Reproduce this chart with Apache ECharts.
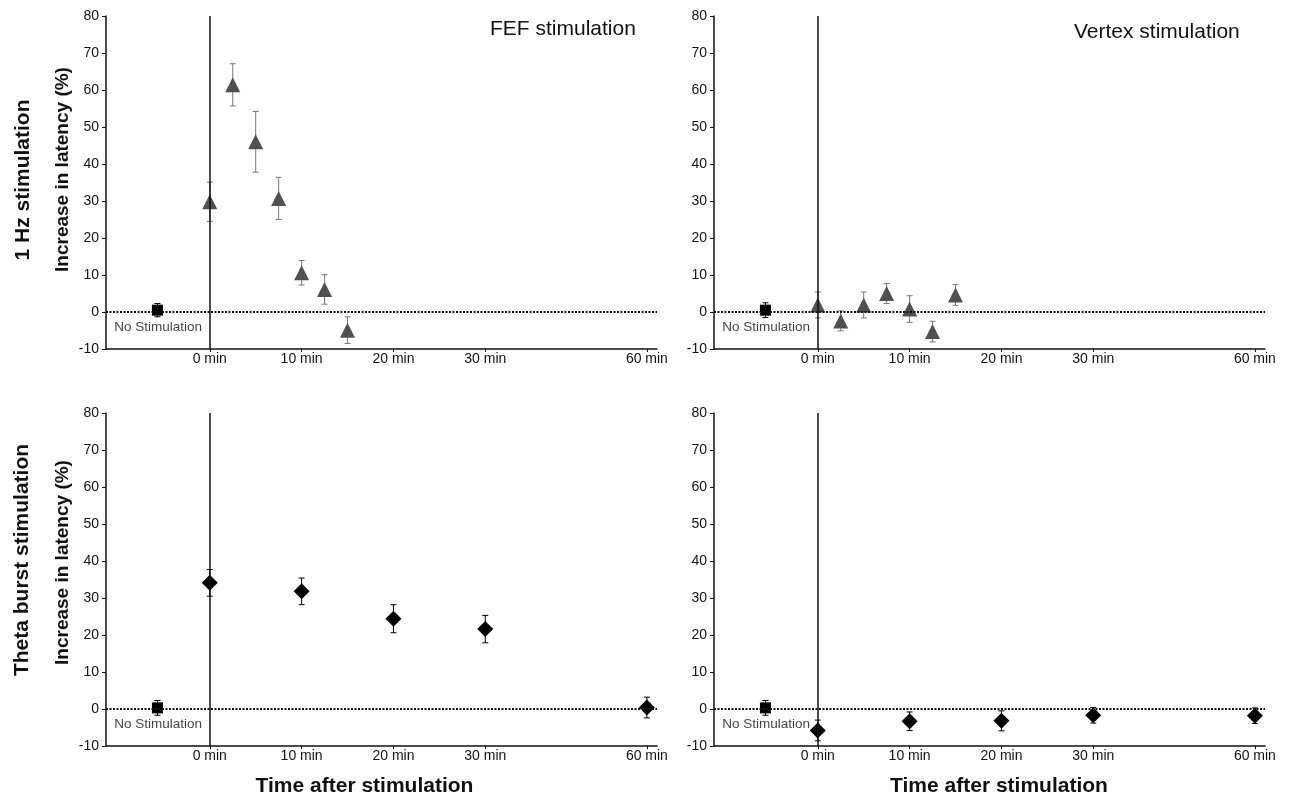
<!DOCTYPE html>
<html>
<head>
<meta charset="utf-8">
<title>Saccade latency after stimulation</title>
<script src="https://cdn.jsdelivr.net/npm/echarts@6.0.0/dist/echarts.min.js"></script>
<style>
    html, body { margin: 0; padding: 0; background: #fff; }
    #main { width: 1292px; height: 799px; }
</style>
</head>
<body>
<div id="main"></div>
<script>
    // x axis ticks: 60 min is drawn after a break, closer than it would be on a true scale
    var tickMinutes = [0, 10, 20, 30, 60];
    var tickPos = [0, 10, 20, 30, 47.6];

    // no-stimulation baseline, drawn left of 0 min
    var baselinePos = -5.7;
    var baselineMean = [0.5, 0.5, 0.3, 0.3];   // FEF 1Hz, Vertex 1Hz, FEF TBS, Vertex TBS
    var baselineErr = [1.8, 2.0, 2.0, 2.0];

    // 1 Hz stimulation (minutes after stimulation)
    var hzTimes = [0, 2.5, 5, 7.5, 10, 12.5, 15];
    var fefHzMean = [29.8, 61.4, 46.0, 30.7, 10.6, 6.1, -4.9];
    var fefHzErr = [5.3, 5.7, 8.2, 5.7, 3.3, 4.0, 3.6];
    var vertexHzMean = [1.9, -2.4, 1.9, 5.0, 0.8, -5.3, 4.6];
    var vertexHzErr = [3.5, 2.7, 3.5, 2.7, 3.6, 2.8, 2.8];

    // theta burst stimulation
    var tbsTimes = [0, 10, 20, 30, 60];
    var fefTbsMean = [34.1, 31.8, 24.4, 21.6, 0.4];
    var fefTbsErr = [3.6, 3.6, 3.8, 3.7, 2.8];
    var vertexTbsMean = [-5.8, -3.3, -3.2, -1.7, -1.8];
    var vertexTbsErr = [2.8, 2.5, 2.7, 2.1, 2.1];

    var noStimLabelAt = [-10.4, -4.2];

    var font = "'Liberation Sans', Arial, sans-serif";

    function posOf(min) {
        var i = tickMinutes.indexOf(min);
        return i >= 0 ? tickPos[i] : min;
    }
    function rows(times, mean, err) {
        var out = [];
        for (var i = 0; i < times.length; i++) {
            out.push([posOf(times[i]), mean[i], err[i]]);
        }
        return out;
    }

    var panels = [
        {data: rows(hzTimes, fefHzMean, fefHzErr), symbol: 'triangle', size: 15, color: '#505050', barColor: '#777'},
        {data: rows(hzTimes, vertexHzMean, vertexHzErr), symbol: 'triangle', size: 15, color: '#505050', barColor: '#777'},
        {data: rows(tbsTimes, fefTbsMean, fefTbsErr), symbol: 'diamond', size: 16, color: '#000', barColor: '#000'},
        {data: rows(tbsTimes, vertexTbsMean, vertexTbsErr), symbol: 'diamond', size: 16, color: '#000', barColor: '#000'}
    ];

    var grids = [
        {left: 106, top: 16, width: 551, height: 333},
        {left: 714, top: 16, width: 551, height: 333},
        {left: 106, top: 413, width: 551, height: 333},
        {left: 714, top: 413, width: 551, height: 333}
    ];

    function errorBars(color) {
        return function (params, api) {
            var x = api.value(0), y = api.value(1), e = api.value(2);
            var top = api.coord([x, y + e]);
            var bot = api.coord([x, y - e]);
            var style = {stroke: color, lineWidth: 1};
            return {
                type: 'group',
                children: [
                    {type: 'line', shape: {x1: top[0], y1: top[1], x2: bot[0], y2: bot[1]}, style: style},
                    {type: 'line', shape: {x1: top[0] - 3, y1: top[1], x2: top[0] + 3, y2: top[1]}, style: style},
                    {type: 'line', shape: {x1: bot[0] - 3, y1: bot[1], x2: bot[0] + 3, y2: bot[1]}, style: style}
                ]
            };
        };
    }

    var xAxes = [], yAxes = [], series = [];
    for (var p = 0; p < 4; p++) {
        var bottomRow = p >= 2;
        var leftCol = p % 2 === 0;
        xAxes.push({
            type: 'value', gridIndex: p, min: -11.3, max: 48.7,
            axisLine: {onZero: false, lineStyle: {color: '#111', width: 1.5}},
            axisTick: {customValues: tickPos, length: 3, lineStyle: {color: '#111'}},
            axisLabel: {
                customValues: tickPos, margin: 3, color: '#111', fontSize: 14, fontFamily: font,
                formatter: function (v) { return tickMinutes[tickPos.indexOf(v)] + ' min'; }
            },
            splitLine: {show: false},
            name: bottomRow ? 'Time after stimulation' : '',
            nameLocation: 'middle', nameGap: 30,
            nameTextStyle: {
                fontSize: 21, fontWeight: 'bold', color: '#111', fontFamily: font,
                padding: leftCol ? [0, 34, 0, 0] : [0, 0, 0, 19]
            }
        });
        yAxes.push({
            type: 'value', gridIndex: p, min: -10, max: 80, interval: 10,
            axisLine: {show: true, onZero: false, lineStyle: {color: '#111', width: 1.5}},
            axisTick: {show: true, length: 4, lineStyle: {color: '#111'}},
            axisLabel: {margin: 7, color: '#111', fontSize: 14, fontFamily: font},
            splitLine: {show: false},
            name: leftCol ? 'Increase in latency (%)' : '',
            nameLocation: 'middle', nameGap: 34,
            nameTextStyle: {
                fontSize: 19, fontWeight: 'bold', color: '#111', fontFamily: font,
                padding: bottomRow ? [0, 0, 0, 34] : [0, 0, 0, 26]
            }
        });

        // zero line, 0 min line and the "No Stimulation" note
        series.push({
            type: 'scatter', xAxisIndex: p, yAxisIndex: p, z: 1, silent: true,
            symbolSize: 0, data: [noStimLabelAt],
            label: {show: true, position: 'right', distance: 0, formatter: 'No Stimulation',
                color: '#111', fontSize: 13.5, fontFamily: font},
            markLine: {
                silent: true, symbol: 'none', label: {show: false},
                data: [
                    {yAxis: 0, lineStyle: {type: [2, 1.5], width: 2, color: '#111'}},
                    {xAxis: 0, lineStyle: {type: 'solid', width: 1.5, color: '#111'}}
                ]
            }
        });
        series.push({
            type: 'custom', xAxisIndex: p, yAxisIndex: p, z: 2,
            renderItem: errorBars(panels[p].barColor),
            encode: {x: 0, y: 1}, data: panels[p].data
        });
        series.push({
            type: 'scatter', xAxisIndex: p, yAxisIndex: p, z: 3,
            symbol: panels[p].symbol, symbolSize: panels[p].size,
            itemStyle: {color: panels[p].color, opacity: 1},
            data: panels[p].data
        });
        var base = [[baselinePos, baselineMean[p], baselineErr[p]]];
        series.push({
            type: 'custom', xAxisIndex: p, yAxisIndex: p, z: 2,
            renderItem: errorBars('#000'),
            encode: {x: 0, y: 1}, data: base
        });
        series.push({
            type: 'scatter', xAxisIndex: p, yAxisIndex: p, z: 3,
            symbol: 'rect', symbolSize: 11,
            itemStyle: {color: '#000', opacity: 1},
            data: base
        });
    }

    var chart = echarts.init(document.getElementById('main'));
    chart.setOption({
        animation: false,
        backgroundColor: '#fff',
        textStyle: {fontFamily: font},
        grid: grids,
        xAxis: xAxes,
        yAxis: yAxes,
        series: series,
        graphic: [
            {type: 'text', x: 490, y: 29, style: {text: 'FEF stimulation', font: '21px ' + font,
                fill: '#111', textVerticalAlign: 'middle'}},
            {type: 'text', x: 1074, y: 32, style: {text: 'Vertex stimulation', font: '21px ' + font,
                fill: '#111', textVerticalAlign: 'middle'}},
            {type: 'text', x: 23, y: 180, rotation: Math.PI / 2, style: {text: '1 Hz stimulation',
                font: 'bold 21px ' + font, fill: '#111', textAlign: 'center', textVerticalAlign: 'middle'}},
            {type: 'text', x: 22, y: 560, rotation: Math.PI / 2, style: {text: 'Theta burst stimulation',
                font: 'bold 21px ' + font, fill: '#111', textAlign: 'center', textVerticalAlign: 'middle'}}
        ]
    });
</script>
</body>
</html>
